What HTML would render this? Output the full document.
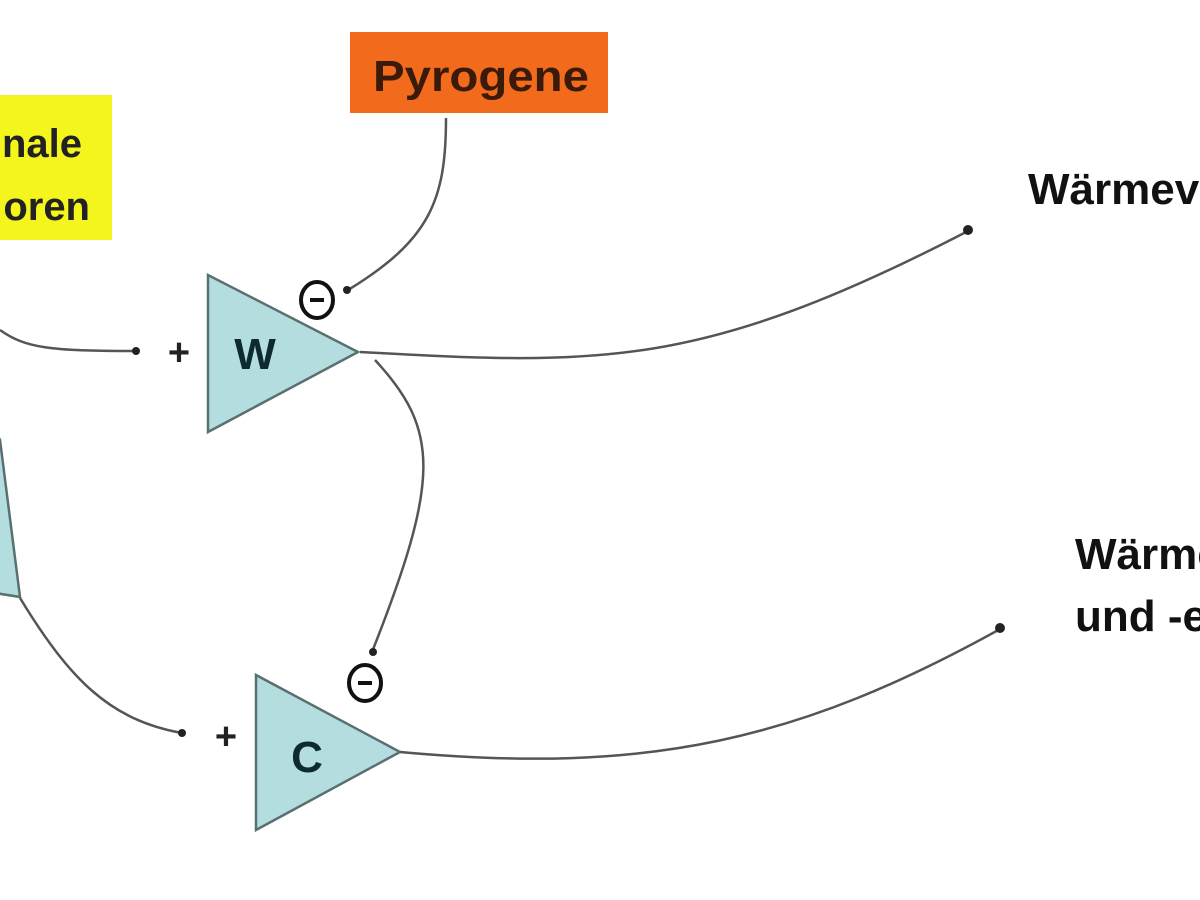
<!DOCTYPE html>
<html><head><meta charset="utf-8"><style>
html,body{margin:0;padding:0;background:#fff;width:1200px;height:900px;overflow:hidden}
svg{display:block}
text{font-family:"Liberation Sans",Arial,sans-serif;font-weight:bold}
</style></head><body>
<svg width="1200" height="900" viewBox="0 0 1200 900" xmlns="http://www.w3.org/2000/svg">
<rect width="1200" height="900" fill="#fff"/>
<rect x="-5" y="95" width="117" height="145" fill="#f5f51e"/>
<text x="82" y="157" font-size="40" text-anchor="end" fill="#222">nale</text>
<text x="90" y="220" font-size="40" text-anchor="end" fill="#222">oren</text>
<rect x="350" y="32" width="258" height="81" fill="#f26a1b"/>
<text x="481" y="91" font-size="44" text-anchor="middle" fill="#3a1a0a" textLength="216" lengthAdjust="spacingAndGlyphs">Pyrogene</text>
<polygon points="-5,430 -5,593 20,597 0,440" fill="#b4dde0" stroke="#5a7070" stroke-width="2.5"/>
<polygon points="208,275 208,432 358,352" fill="#b4dde0" stroke="#5a7070" stroke-width="2.5"/>
<text x="255" y="369" font-size="44" text-anchor="middle" fill="#0d2a33">W</text>
<polygon points="256,675 256,830 400,752" fill="#b4dde0" stroke="#5a7070" stroke-width="2.5"/>
<text x="307" y="772" font-size="44" text-anchor="middle" fill="#0d2a33">C</text>
<g fill="none" stroke="#555" stroke-width="2.5">
<path d="M0,330 C25,348 50,351 135,351"/>
<path d="M446,118 C446,200 430,240 348,290"/>
<path d="M360,352 C600,365 700,370 970,230"/>
<path d="M375,360 C440,430 440,480 372,652"/>
<path d="M20,598 C70,680 110,720 182,733"/>
<path d="M400,752 C650,775 800,740 1002,628"/>
</g>
<g fill="#222">
<circle cx="136" cy="351" r="4"/>
<circle cx="347" cy="290" r="4"/>
<circle cx="968" cy="230" r="5"/>
<circle cx="373" cy="652" r="4"/>
<circle cx="182" cy="733" r="4"/>
<circle cx="1000" cy="628" r="5"/>
</g>
<text x="179" y="365" font-size="38" text-anchor="middle" fill="#222" font-weight="normal">+</text>
<text x="226" y="749" font-size="38" text-anchor="middle" fill="#222" font-weight="normal">+</text>
<g fill="none" stroke="#111" stroke-width="4">
<ellipse cx="317" cy="300" rx="16" ry="18"/>
<ellipse cx="365" cy="683" rx="16" ry="18"/>
</g>
<g stroke="#111" stroke-width="4">
<line x1="310" y1="300" x2="324" y2="300"/>
<line x1="358" y1="683" x2="372" y2="683"/>
</g>
<text x="1028" y="204" font-size="44" fill="#111">Wärmeverlust</text>
<text x="1075" y="569" font-size="44" fill="#111">Wärmebildung</text>
<text x="1075" y="631" font-size="44" fill="#111">und -erhaltung</text>
</svg>
</body></html>
